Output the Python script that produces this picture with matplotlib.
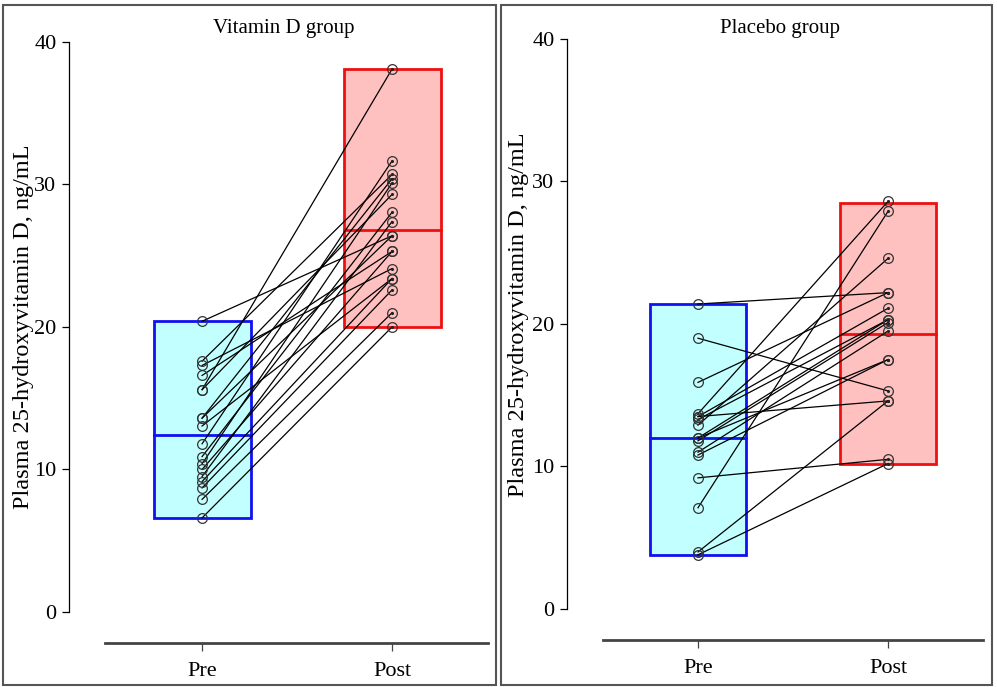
import matplotlib
matplotlib.use("Agg")
import matplotlib.pyplot as plt
from matplotlib.patches import Rectangle

plt.rcParams['font.family'] = ['Liberation Serif', 'DejaVu Serif']

# paired values (pre[i] -> post[i]), ng/mL
vitd_pre = [20.4, 17.6, 17.3, 16.6, 15.6, 15.6, 13.6, 13.6, 13.05,
            11.8, 10.9, 10.4, 10.0, 9.5, 9.15, 8.7, 7.9, 6.6]
vitd_post = [26.4, 30.7, 24.1, 25.3, 38.1, 29.3, 30.4, 26.4, 23.4,
             31.65, 28.05, 30.1, 25.3, 27.4, 23.4, 22.6, 21.0, 20.0]

plac_pre = [21.4, 19.0, 15.9, 13.7, 13.5, 13.5, 13.3, 12.9, 12.0,
            12.0, 11.8, 11.0, 10.8, 9.2, 7.1, 4.0, 3.8]
plac_post = [22.2, 15.3, 22.2, 28.6, 21.1, 14.6, 20.3, 24.6, 20.3,
             17.5, 20.1, 19.5, 17.5, 10.5, 27.9, 14.6, 10.2]

# box summaries: [pre, post]
vitd_lo, vitd_mid, vitd_hi = [6.6, 20.0], [12.4, 26.8], [20.4, 38.1]
plac_lo, plac_mid, plac_hi = [3.8, 10.2], [12.0, 19.3], [21.4, 28.5]

groups = ["Pre", "Post"]
yticks = [0, 10, 20, 30, 40]
ylabel = "Plasma 25-hydroxyvitamin D, ng/mL"

W, H = 997, 687
fig = plt.figure(figsize=(W / 100, H / 100), dpi=100)


def px_axes(x0, x1, ytop, ybot):
    return fig.add_axes([x0 / W, 1 - ybot / H, (x1 - x0) / W, (ybot - ytop) / H])


def draw_panel(ax, pre, post, lo, mid, hi, xlim, label_xy):
    fills = ['#c2ffff', '#ffc0c0']
    edges = ['#1010f0', '#ee1010']
    bw = 0.51
    for i in range(2):
        x = i + 1
        ax.add_patch(Rectangle((x - bw / 2, lo[i]), bw, hi[i] - lo[i],
                               facecolor=fills[i], edgecolor=edges[i], lw=2.0, zorder=1))
        ax.plot([x - bw / 2, x + bw / 2], [mid[i], mid[i]], color=edges[i], lw=2.0, zorder=2)
    for a, b in zip(pre, post):
        ax.plot([1, 2], [a, b], color='black', lw=0.9, zorder=3)
    ax.plot([1] * len(pre), pre, 'o', ms=7, mfc='none', mec='#333333', mew=0.9, zorder=4)
    ax.plot([2] * len(post), post, 'o', ms=7, mfc='none', mec='#333333', mew=0.9, zorder=4)
    ax.plot([2] * len(post), post, '.', ms=2.5, color='#222222', zorder=4)

    ax.spines['top'].set_visible(False)
    ax.spines['right'].set_visible(False)
    ax.spines['left'].set_position(('outward', 26))
    ax.spines['left'].set_bounds(0, 40)
    ax.spines['left'].set_linewidth(0.9)
    ax.spines['bottom'].set_linewidth(2.0)
    ax.spines['bottom'].set_color('#444444')

    ax.set_xlim(*xlim)
    ax.set_ylim(-2.18, 40.49)
    ax.set_xticks([1, 2])
    ax.set_xticklabels(groups)
    ax.set_yticks(yticks)
    ax.tick_params(axis='y', length=5, width=0.9, pad=4, labelsize=16)
    ax.tick_params(axis='x', length=6, width=0.9, pad=8, color='#444444', labelsize=16)
    ax.set_ylabel(ylabel, fontsize=17.5)
    ax.yaxis.set_label_coords(*label_xy)
    ax.patch.set_visible(False)


ax1 = px_axes(105, 488, 35, 643)
draw_panel(ax1, vitd_pre, vitd_post, vitd_lo, vitd_mid, vitd_hi,
           (0.489, 2.505), (-0.185, 0.52))

ax2 = px_axes(603, 983, 32, 640)
draw_panel(ax2, plac_pre, plac_post, plac_lo, plac_mid, plac_hi,
           (0.5, 2.5), (-0.196, 0.535))

# panel frames
for x0, x1 in [(3, 496), (501, 992)]:
    fig.patches.append(Rectangle((x0 / W, 1 - 685 / H), (x1 - x0) / W, 680 / H,
                                 transform=fig.transFigure, fill=False,
                                 ec='#555555', lw=1.5))

fig.text(284 / W, 1 - 28 / H, "Vitamin D group", fontsize=15, ha='center', va='center')
fig.text(780 / W, 1 - 28 / H, "Placebo group", fontsize=15, ha='center', va='center')

fig.savefig("out.png", dpi=100)
